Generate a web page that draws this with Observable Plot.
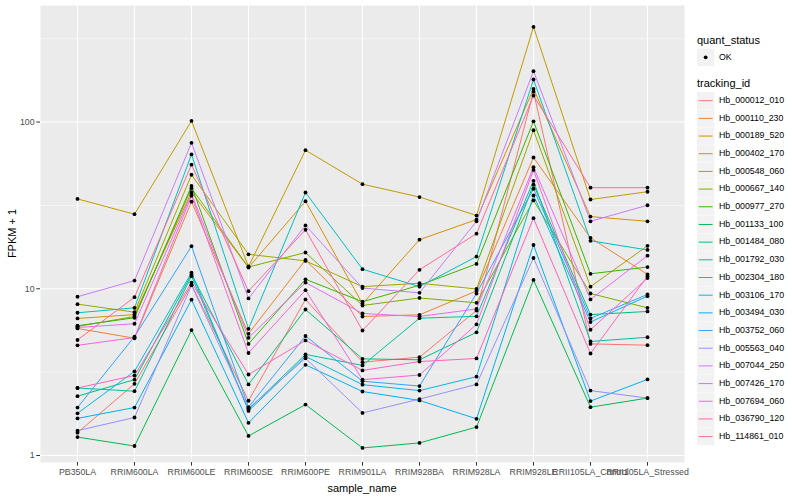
<!DOCTYPE html>
<html><head><meta charset="utf-8">
<script src="https://cdn.jsdelivr.net/npm/d3@7"></script>
<script src="https://cdn.jsdelivr.net/npm/@observablehq/plot@0.6"></script>
<style>
body{margin:0;background:#fff;}
#wrap{position:relative;width:800px;height:500px;font-family:"Liberation Sans",Arial,sans-serif;}
#wrap svg{position:absolute;left:0;top:0;}
</style></head><body><div id="wrap"></div>
<script>
const samples = ["PB350LA","RRIM600LA","RRIM600LE","RRIM600SE","RRIM600PE","RRIM901LA","RRIM928BA","RRIM928LA","RRIM928LE","RRII105LA_Control","RRII105LA_Stressed"];
const ids = ["Hb_000012_010","Hb_000110_230","Hb_000189_520","Hb_000402_170","Hb_000548_060","Hb_000667_140","Hb_000977_270","Hb_001133_100","Hb_001484_080","Hb_001792_030","Hb_002304_180","Hb_003106_170","Hb_003494_030","Hb_003752_060","Hb_005563_040","Hb_007044_250","Hb_007426_170","Hb_007694_060","Hb_036790_120","Hb_114861_010"];
const colors = ["#F8766D","#EA8331","#D89000","#C09B00","#A3A500","#7CAE00","#39B600","#00BB4E","#00BF7D","#00C1A3","#00BFC4","#00BAE0","#00B0F6","#35A2FF","#9590FF","#C77CFF","#E76BF3","#FA62DB","#FF62BC","#FF6A98"];
const yMajor = [1, 10, 100];
const yMinor = [0.316, 3.16, 31.6, 316];

const hb_000012_010 = [1.37, 2.69, 10.6, 2.13, 8.63, 3.63, 3.89, 7.41, 152, 4.67, 4.59];
const hb_000110_230 = [5.78, 5.05, 33.3, 5.37, 14.9, 6.82, 6.98, 9.7, 61.3, 20.2, 12.2];
const hb_000189_520 = [6.64, 7.0, 38.0, 13.4, 33.5, 8.13, 19.7, 26.0, 158, 27.1, 25.4];
const hb_000402_170 = [34.6, 28.0, 101.5, 13.6, 67.8, 42.4, 35.5, 27.5, 372, 34.3, 38.2];
const hb_000548_060 = [8.09, 7.24, 48.3, 16.1, 14.7, 10.3, 10.8, 9.97, 89.3, 10.3, 18.1];
const hb_000667_140 = [5.95, 6.82, 40.1, 13.5, 16.5, 7.94, 8.81, 8.24, 33.9, 9.37, 7.69];
const hb_000977_270 = [6.0, 6.7, 41.4, 4.67, 11.4, 8.36, 10.5, 14.1, 101, 12.3, 13.5];
const hb_001133_100 = [1.29, 1.14, 5.65, 1.31, 2.02, 1.11, 1.19, 1.48, 11.3, 1.95, 2.21];
const hb_001484_080 = [2.27, 2.85, 12.2, 2.67, 7.51, 3.80, 3.75, 5.48, 42.1, 7.0, 7.31];
const hb_001792_030 = [2.54, 2.43, 11.9, 1.89, 4.04, 3.47, 6.66, 6.84, 44.4, 4.83, 5.12];
const hb_002304_180 = [7.18, 7.69, 63.9, 5.75, 37.8, 13.1, 10.3, 15.6, 180, 19.4, 17.1];
const hb_003106_170 = [1.79, 3.2, 12.5, 1.85, 3.93, 2.66, 2.45, 2.97, 36.3, 6.32, 9.03];
const hb_003494_030 = [1.67, 1.94, 8.6, 1.57, 3.5, 2.42, 2.14, 1.66, 18.3, 2.12, 2.86];
const hb_003752_060 = [1.94, 5.17, 18.0, 1.95, 5.21, 2.79, 2.61, 9.37, 39.8, 6.64, 9.25];
const hb_005563_040 = [1.41, 1.69, 10.5, 1.92, 3.83, 1.80, 2.18, 2.67, 15.3, 2.45, 2.21];
const hb_007044_250 = [8.96, 11.2, 75.1, 8.75, 24.0, 10.1, 9.46, 25.4, 202, 25.4, 31.7];
const hb_007426_170 = [5.86, 6.17, 37.0, 5.08, 10.9, 7.11, 6.82, 7.57, 53.6, 8.63, 15.8];
const hb_007694_060 = [4.58, 5.1, 36.1, 4.12, 9.81, 2.85, 3.04, 6.11, 51.6, 5.68, 11.6];
const hb_036790_120 = [2.54, 3.02, 10.9, 3.06, 4.9, 3.24, 3.66, 3.82, 26.5, 4.09, 11.9];
const hb_114861_010 = [4.93, 8.9, 55.5, 9.68, 22.6, 5.62, 13.0, 21.4, 144, 40.4, 40.4];

const seriesValues = [hb_000012_010, hb_000110_230, hb_000189_520, hb_000402_170, hb_000548_060, hb_000667_140, hb_000977_270, hb_001133_100, hb_001484_080, hb_001792_030, hb_002304_180, hb_003106_170, hb_003494_030, hb_003752_060, hb_005563_040, hb_007044_250, hb_007426_170, hb_007694_060, hb_036790_120, hb_114861_010];

const data = [];
ids.forEach((id, i) => seriesValues[i].forEach((v, j) => data.push({id, sample: samples[j], value: v, status: "OK"})));

const font = "Liberation Sans, Arial, sans-serif";
const chart = Plot.plot({
  width: 800, height: 500,
  marginLeft: 40, marginRight: 116, marginTop: 5, marginBottom: 38,
  style: {fontFamily: font, background: "transparent", overflow: "visible"},
  x: {type: "point", domain: samples, padding: 0.6, label: null},
  y: {type: "log", domain: [0.908, 500], label: null},
  color: {domain: ids, range: colors},
  marks: [
    Plot.frame({fill: "#EBEBEB", stroke: "none"}),
    Plot.gridY(yMinor, {stroke: "#fff", strokeOpacity: 1, strokeWidth: 0.55}),
    Plot.gridY(yMajor, {stroke: "#fff", strokeOpacity: 1, strokeWidth: 1.1}),
    Plot.gridX(samples, {stroke: "#fff", strokeOpacity: 1, strokeWidth: 1.1}),
    Plot.line(data, {x: "sample", y: "value", z: "id", stroke: "id", strokeWidth: 1}),
    Plot.dot(data, {x: "sample", y: "value", r: 1.9, fill: "#000", stroke: "none"}),
    Plot.axisX(samples, {tickSize: 3.7, tickPadding: 2.5, fontSize: 8.8, fill: "#4D4D4D", stroke: "#333", label: null}),
    Plot.axisY(yMajor, {tickSize: 3.7, tickPadding: 2.2, fontSize: 8.8, fill: "#4D4D4D", stroke: "#333", tickFormat: d => String(d), label: null})
  ]
});
const wrap = document.getElementById("wrap");
wrap.appendChild(chart);

// titles and legend overlay
const svg = d3.select(wrap).append("svg").attr("width", 800).attr("height", 500)
  .style("font-family", font).style("pointer-events", "none");
svg.append("text").attr("x", 362).attr("y", 489).attr("text-anchor", "middle")
  .attr("dominant-baseline", "middle").attr("font-size", 11).attr("fill", "#000").text("sample_name");
svg.append("text").attr("transform", "translate(13,233.5) rotate(-90)").attr("text-anchor", "middle")
  .attr("dominant-baseline", "middle").attr("font-size", 11).attr("fill", "#000").text("FPKM + 1");

const lx = 697;
svg.append("text").attr("x", lx).attr("y", 40.7).attr("dominant-baseline", "middle")
  .attr("font-size", 11).attr("fill", "#000").text("quant_status");
svg.append("rect").attr("x", lx).attr("y", 48.7).attr("width", 17.3).attr("height", 17.3).attr("fill", "#F2F2F2");
svg.append("circle").attr("cx", lx + 8.65).attr("cy", 57.3).attr("r", 1.9).attr("fill", "#000");
svg.append("text").attr("x", lx + 22).attr("y", 57.3).attr("dominant-baseline", "middle")
  .attr("font-size", 8.8).attr("fill", "#000").text("OK");
svg.append("text").attr("x", lx).attr("y", 84.3).attr("dominant-baseline", "middle")
  .attr("font-size", 11).attr("fill", "#000").text("tracking_id");
ids.forEach((id, i) => {
  const cy = 100.7 + 17.68 * i;
  svg.append("rect").attr("x", lx).attr("y", cy - 8.65).attr("width", 17.3).attr("height", 17.3).attr("fill", "#F2F2F2");
  svg.append("line").attr("x1", lx + 1.7).attr("x2", lx + 15.6).attr("y1", cy).attr("y2", cy)
    .attr("stroke", colors[i]).attr("stroke-width", 1);
  svg.append("text").attr("x", lx + 22).attr("y", cy).attr("dominant-baseline", "middle")
    .attr("font-size", 8.8).attr("fill", "#000").text(id);
});
</script></body></html>
